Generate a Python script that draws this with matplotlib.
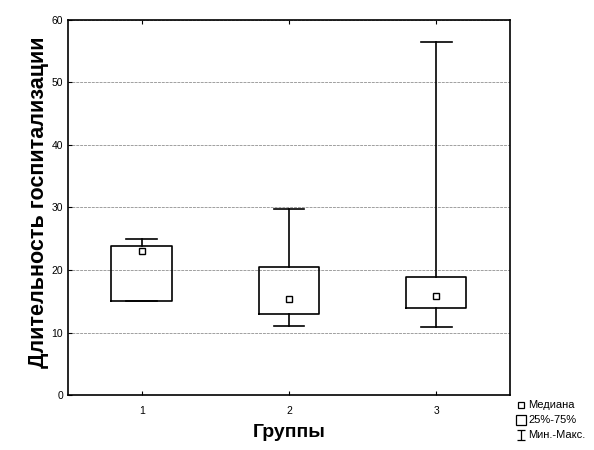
import matplotlib
matplotlib.use("Agg")
import matplotlib.pyplot as plt
from matplotlib.lines import Line2D
from matplotlib.path import Path

plt.rcParams['font.family'] = ['Liberation Sans', 'DejaVu Sans']

groups = ["1", "2", "3"]
medians = [23.0, 15.3, 15.8]
q1 = [15.0, 12.9, 13.9]
q3 = [23.9, 20.4, 18.9]
mins = [15.0, 11.0, 10.9]
maxs = [24.9, 29.8, 56.5]
yticks = [0, 10, 20, 30, 40, 50, 60]

fig = plt.figure(figsize=(5.94, 4.5), dpi=100)
ax = fig.add_axes([0.1145, 0.1222, 0.744, 0.8334])

positions = list(range(1, len(groups) + 1))
stats = []
for i in range(len(groups)):
    stats.append(dict(med=medians[i], q1=q1[i], q3=q3[i],
                      whislo=mins[i], whishi=maxs[i], fliers=[]))

ax.bxp(stats, positions=positions, widths=0.41, showfliers=False,
       boxprops=dict(color='black', linewidth=1.2),
       whiskerprops=dict(color='black', linewidth=1.2),
       capprops=dict(color='black', linewidth=1.2),
       medianprops=dict(linewidth=0),
       capwidths=0.21, zorder=3)
ax.plot(positions, medians, linestyle='none', marker='s', markersize=4.5,
        markerfacecolor='white', markeredgecolor='black', markeredgewidth=1.0,
        zorder=4)

ax.set_xlim(0.5, 3.5)
ax.set_ylim(0, 60)
ax.set_yticks(yticks)
ax.set_xticks(positions)
ax.set_xticklabels(groups)
ax.yaxis.grid(True, color='#a0a0a0', linestyle=(0, (3, 1)), linewidth=0.7)
ax.set_axisbelow(True)
ax.tick_params(axis='both', direction='in', length=3, labelsize=7.5,
               top=True, right=False, width=0.8)
ax.tick_params(axis='x', pad=8)
for sp in ax.spines.values():
    sp.set_linewidth(1.2)
    sp.set_color('black')

ax.set_ylabel("Длительность госпитализации", fontsize=15.5, fontweight='bold')
ax.yaxis.set_label_coords(-0.042, 0.515)
ax.set_xlabel("Группы", fontsize=14, fontweight='bold', labelpad=6)

ibeam = Path([(-0.6, 0.8), (0.6, 0.8), (0, 0.8), (0, -0.8), (-0.6, -0.8), (0.6, -0.8)],
             [Path.MOVETO, Path.LINETO, Path.MOVETO, Path.LINETO,
              Path.MOVETO, Path.LINETO])
handles = [
    Line2D([], [], linestyle='none', marker='s', markersize=4,
           markerfacecolor='white', markeredgecolor='black', markeredgewidth=0.9),
    Line2D([], [], linestyle='none', marker='s', markersize=7.5,
           markerfacecolor='white', markeredgecolor='black', markeredgewidth=0.9),
    Line2D([], [], linestyle='none', marker=ibeam, markersize=7,
           markerfacecolor='none', markeredgecolor='black', markeredgewidth=0.9),
]
labels = ["Медиана", "25%-75%", "Мин.-Макс."]
fig.legend(handles, labels, loc='lower left', bbox_to_anchor=(0.858, 0.004),
           frameon=False, fontsize=8, handlelength=0.7, handletextpad=0.25,
           labelspacing=0.45, borderpad=0.2)

fig.savefig("out.png", dpi=100)
